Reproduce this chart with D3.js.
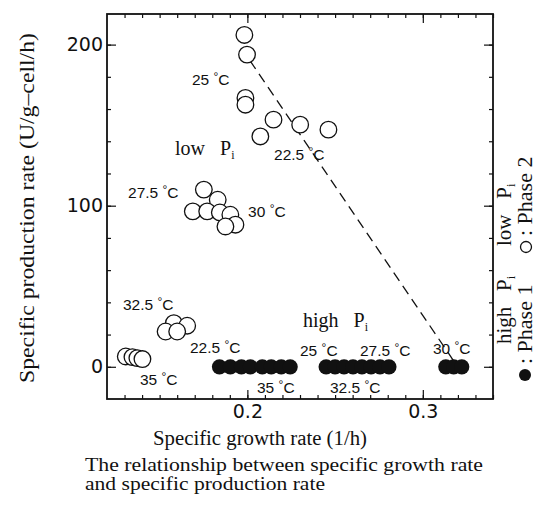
<!DOCTYPE html>
<html>
<head>
<meta charset="utf-8">
<script src="https://cdn.jsdelivr.net/npm/d3@7"></script>
<style>
body{margin:0;background:#fff;}
</style>
</head>
<body>
<div id="chart"></div>
<script>
// phase 2 (low Pi) - open circles
const phase2Growth=[0.1983,0.1998,0.1989,0.1989,0.2149,0.2301,0.2462,0.2074,
    0.1752,0.1831,0.1689,0.1771,0.1843,0.1903,0.1932,0.1875,
    0.1581,0.1657,0.1534,0.1600,
    0.1307,0.1345,0.1373,0.1402];
const phase2Prod=[206,193.8,166.9,162.7,153.4,150.3,147.2,143,
    110,103.7,96.5,96.5,95.8,94.4,88.2,87.1,
    27.1,25.5,21.9,21.9,
    6.4,6.0,5.4,4.8];
// phase 1 (high Pi) - filled circles
const phase1Growth=[0.1841,0.1903,0.1966,0.2017,0.2085,0.2136,0.2193,0.2244,
    0.2449,0.2500,0.2551,0.2602,0.2653,0.2705,0.2756,0.2807,
    0.3131,0.3176,0.3222];
const phase1Prod=[0,0,0,0,0,0,0,0, 0,0,0,0,0,0,0,0, 0,0,0];
// dashed trend
const trendGrowth=[0.2015,0.318];
const trendProd=[190,3];
const xMajorTicks=[0.2,0.3];
const yMajorTicks=[0,100,200];
const tempLabels=["25","22.5","27.5","30","32.5","35","22.5","35","25","27.5","32.5","30"];

const WIDTH=536, HEIGHT=506;
const LEFT=107, RIGHT=493, TOP=14, BOTTOM=399;
const SERIF="'Liberation Serif','Times New Roman',serif";
const SANS="'Liberation Sans',Arial,Helvetica,sans-serif";
const TICKFONT="'DejaVu Sans',Verdana,sans-serif";
const INK="#111";

// where each temperature label sits (data coords)
const labelAt=[[0.1684,175],[0.2152,128.4],[0.1320,105],[0.2004,93],
    [0.1291,35.2],[0.1388,-11.3],[0.1673,8.6],[0.2055,-16],
    [0.2300,7],[0.2642,7],[0.2471,-16],[0.3058,8]];

const svg=d3.select("#chart").append("svg")
    .attr("width",WIDTH).attr("height",HEIGHT)
    .style("font-family",SANS);

const x=d3.scaleLinear().domain([0.12,0.34]).range([LEFT,RIGHT]);
const y=d3.scaleLinear().domain([-20,219]).range([BOTTOM,TOP]);

const minorX=d3.range(13,35).map(d=>d/100);
const minorY=d3.range(-20,220,20).filter(d=>d>-20);

function clean(g){
    g.select(".domain").remove();
    g.selectAll("line").attr("stroke",INK).attr("stroke-width",1.2);
}

// minor ticks on all four sides
svg.append("g").attr("transform",`translate(0,${BOTTOM})`)
    .call(d3.axisBottom(x).tickValues(minorX).tickSize(-4).tickFormat(""))
    .call(clean);
svg.append("g").attr("transform",`translate(0,${TOP})`)
    .call(d3.axisTop(x).tickValues(minorX).tickSize(-4).tickFormat(""))
    .call(clean);
svg.append("g").attr("transform",`translate(${LEFT},0)`)
    .call(d3.axisLeft(y).tickValues(minorY).tickSize(-4).tickFormat(""))
    .call(clean);
svg.append("g").attr("transform",`translate(${RIGHT},0)`)
    .call(d3.axisRight(y).tickValues(minorY).tickSize(-4).tickFormat(""))
    .call(clean);

// major ticks with labels
svg.append("g").attr("transform",`translate(0,${BOTTOM})`)
    .call(d3.axisBottom(x).tickValues(xMajorTicks).tickSize(-9).tickPadding(6).tickFormat(d3.format(".1f")))
    .call(clean)
    .call(g=>g.selectAll("text").attr("fill",INK).style("font-size","19px").style("font-family",TICKFONT));
svg.append("g").attr("transform",`translate(0,${TOP})`)
    .call(d3.axisTop(x).tickValues(xMajorTicks).tickSize(-9).tickFormat(""))
    .call(clean);
svg.append("g").attr("transform",`translate(${LEFT},0)`)
    .call(d3.axisLeft(y).tickValues(yMajorTicks).tickSize(-9).tickPadding(4))
    .call(clean)
    .call(g=>g.selectAll("text").attr("fill",INK).style("font-size","19px").style("font-family",TICKFONT));
svg.append("g").attr("transform",`translate(${RIGHT},0)`)
    .call(d3.axisRight(y).tickValues(yMajorTicks).tickSize(-9).tickFormat(""))
    .call(clean);

// frame
svg.append("rect")
    .attr("x",LEFT).attr("y",TOP)
    .attr("width",RIGHT-LEFT).attr("height",BOTTOM-TOP)
    .attr("fill","none").attr("stroke",INK).attr("stroke-width",1.8);

// dashed line
svg.append("path")
    .datum(d3.zip(trendGrowth,trendProd))
    .attr("d",d3.line().x(d=>x(d[0])).y(d=>y(d[1])))
    .attr("fill","none").attr("stroke",INK)
    .attr("stroke-width",1.3).attr("stroke-dasharray","10,6");

// points
svg.append("g").selectAll("circle")
    .data(d3.zip(phase1Growth,phase1Prod))
    .enter().append("circle")
    .attr("cx",d=>x(d[0])).attr("cy",d=>y(d[1]))
    .attr("r",7.6).attr("fill",INK);

svg.append("g").selectAll("circle")
    .data(d3.zip(phase2Growth,phase2Prod))
    .enter().append("circle")
    .attr("cx",d=>x(d[0])).attr("cy",d=>y(d[1]))
    .attr("r",8.3).attr("fill","#fff")
    .attr("stroke",INK).attr("stroke-width",1.3);

// temperature labels
const tl=svg.append("g").selectAll("text")
    .data(tempLabels)
    .enter().append("text")
    .attr("x",(d,i)=>x(labelAt[i][0]))
    .attr("y",(d,i)=>y(labelAt[i][1]))
    .attr("fill",INK)
    .style("font-size","15.5px");
tl.append("tspan").text(d=>d+" ");
tl.append("tspan").text("°").attr("dy",-4).style("font-size","12px");
tl.append("tspan").text("C").attr("dy",4);

// Pi labels
function piLabel(sel,word,size){
    sel.attr("fill",INK).style("font-family",SERIF).style("font-size",size+"px");
    sel.append("tspan").text(word+"\u00a0\u00a0");
    sel.append("tspan").text("P").attr("dx",size*0.25);
    sel.append("tspan").text("i").attr("dy",size*0.2).style("font-size",(size*0.6)+"px");
}
svg.append("text").attr("x",x(0.1588)).attr("y",y(131.5)).call(piLabel,"low",20);
svg.append("text").attr("x",x(0.2317)).attr("y",y(24.5)).call(piLabel,"high",20);

// right-hand legend
svg.append("text").attr("transform","translate(511,344) rotate(-90)").call(piLabel,"high",21);
svg.append("text").attr("transform","translate(511,246) rotate(-90)").call(piLabel,"low",21);
svg.append("circle").attr("cx",525).attr("cy",375).attr("r",6).attr("fill",INK);
svg.append("circle").attr("cx",526).attr("cy",247).attr("r",5.5).attr("fill","none")
    .attr("stroke",INK).attr("stroke-width",1.3);
svg.append("text").attr("transform","translate(532,364) rotate(-90)")
    .attr("fill",INK).style("font-family",SERIF).style("font-size","22px")
    .text(":\u00a0Phase 1");
svg.append("text").attr("transform","translate(532,236) rotate(-90)")
    .attr("fill",INK).style("font-family",SERIF).style("font-size","22px")
    .text(":\u00a0Phase 2");

// axis titles
svg.append("text")
    .attr("x",153).attr("y",445).attr("fill",INK)
    .style("font-family",SERIF).style("font-size","20px")
    .attr("textLength",214).attr("lengthAdjust","spacingAndGlyphs")
    .text("Specific growth rate (1/h)");
svg.append("text")
    .attr("transform","translate(34,383) rotate(-90)")
    .attr("fill",INK)
    .style("font-family",SERIF).style("font-size","20px")
    .attr("textLength",350).attr("lengthAdjust","spacingAndGlyphs")
    .text("Specific production rate (U/g\u2013cell/h)");

// caption
svg.append("text")
    .attr("x",85).attr("y",471).attr("fill",INK)
    .style("font-family",SERIF).style("font-size","19px")
    .attr("textLength",398).attr("lengthAdjust","spacingAndGlyphs")
    .text("The relationship between specific growth rate");
svg.append("text")
    .attr("x",85).attr("y",490).attr("fill",INK)
    .style("font-family",SERIF).style("font-size","19px")
    .attr("textLength",240).attr("lengthAdjust","spacingAndGlyphs")
    .text("and specific production rate");
</script>
</body>
</html>
